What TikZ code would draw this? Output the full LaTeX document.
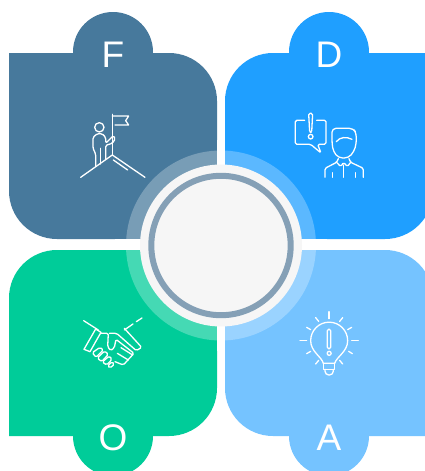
\documentclass[tikz,border=0pt]{standalone}
\usepackage{fontspec}
\setmainfont{Liberation Sans}
\definecolor{cF}{HTML}{47799C}
\definecolor{cD}{HTML}{1F9FFF}
\definecolor{cO}{HTML}{00CC99}
\definecolor{cA}{HTML}{75C3FF}
\definecolor{cHub}{HTML}{F6F6F6}
\definecolor{cRing}{HTML}{85A0B6}
\tikzset{
  letter/.style={text=white,font=\fontsize{37}{37}\selectfont,inner sep=0pt,anchor=base},
  icon/.style={draw=white,line width=1.3pt,line cap=round,line join=round,fill=none,rounded corners=1.5pt},
  zoomed/.style={x=0.3333pt,y=-0.3333pt},
}
\begin{document}
\begin{tikzpicture}[x=1pt,y=-1pt]
\useasboundingbox (0,0) rectangle (425,471);
\clip (0,0) rectangle (425,471);
\fill[white] (0,0) rectangle (425,471);
% quadrants
\fill[cF] (113,52) circle (40);
\fill[cF] (9,53) -- (169,53) arc[start angle=-90,end angle=0,radius=48] -- (217,239) -- (57,239) arc[start angle=90,end angle=180,radius=48] -- cycle;
\fill[cD] (329,52) circle (40);
\fill[cD] (433,53) -- (273,53) arc[start angle=-90,end angle=-180,radius=48] -- (225,239) -- (385,239) arc[start angle=90,end angle=0,radius=48] -- cycle;
\fill[cO] (113,436) circle (40);
\fill[cO] (217,250) -- (57,250) arc[start angle=-90,end angle=-180,radius=48] -- (9,436) -- (169,436) arc[start angle=90,end angle=0,radius=48] -- cycle;
\fill[cA] (329,436) circle (40);
\fill[cA] (225,250) -- (385,250) arc[start angle=-90,end angle=0,radius=48] -- (433,436) -- (273,436) arc[start angle=90,end angle=180,radius=48] -- cycle;
% hub
\fill[white,fill opacity=0.27] (221,245.5) circle (95);
\fill[white] (217,140) rectangle (225,351);
\fill[white] (115,239) rectangle (327,250);
\fill[cHub] (221,245.5) circle (81);
\draw[cRing,line width=6pt] (221,245.5) circle (69.7);
% letters
\node[letter] (lF) at (113,67) {F};
\node[letter] (lD) at (329,67) {D};
\node[letter] (lO) at (113,450) {O};
\node[letter] (lA) at (329,450) {A};
% flag icon
\begin{scope}[shift={(60,0)},zoomed]
\draw[icon,sharp corners] (62,532) -- (157,465) -- (255,532);
\draw[icon] (160,480) -- (203,510);
\draw[icon] (157,465) -- (157,343);
\draw[icon,sharp corners] (157,348) -- (206,348) -- (197,362) -- (206,375) -- (165,375);
\draw[icon] (118,382) circle (14);
\draw[icon] (107,497) -- (107,462) -- (99,445) -- (99,412) -- (112,401) -- (126,401) -- (137,412) -- (137,430) -- (160,407) -- (166,416) -- (157,430) -- (137,436) -- (137,478);
\draw[icon] (122,492) -- (122,445);
\end{scope}
% speech and person icon
\begin{scope}[shift={(270,0)},zoomed]
\draw[icon] (104,361) -- (76,361) -- (76,433) -- (122,433) -- (153,459) -- (143,433) -- (168,433) -- (168,361) -- (140,361);
\draw[icon] (116,340) -- (128,340) -- (125,397) -- (119,397) -- cycle;
\draw[icon] (122,410) circle (7);
\draw[icon,rounded corners=4pt] (190,455) -- (186,430) -- (186,385) -- (250,385) -- (259,400) -- (259,430) -- (252,455) -- (235,474) -- (206,474) -- cycle;
\draw[icon] (199,425) .. controls (210,410) and (230,410) .. (246,418);
\draw[icon] (205,476) -- (200,487) -- (165,505) -- (165,532);
\draw[icon] (237,476) -- (242,487) -- (280,505) -- (280,532);
\draw[icon] (200,487) -- (212,500) -- (221,487) -- (232,500) -- (242,487);
\draw[icon] (221,495) -- (221,532);
\draw[icon] (187,518) -- (187,532);
\draw[icon] (257,518) -- (257,532);
\end{scope}
% handshake icon
\begin{scope}[shift={(60,300)},zoomed]
\draw[icon] (71,62) -- (115,90);
\draw[icon] (246,54) -- (229,65);
\draw[icon] (219,72) -- (193,90);
\draw[icon,sharp corners] (107,87) -- (123,97) -- (90,155) -- (72,148) -- cycle;
\draw[icon] (193,85) -- (245,142) -- (229,152) -- (170,100) -- (148,100);
\draw[icon] (123,100) -- (145,100) -- (143,140) -- (152,152) -- (163,143) -- (168,118) -- (222,160) -- (190,195) -- (165,185);
\draw[icon] (97,158) -- (120,142) -- (130,150) -- (108,172) -- cycle;
\draw[icon] (112,174) -- (134,153) -- (145,163) -- (125,185) -- cycle;
\draw[icon] (127,186) -- (148,168) -- (156,178) -- (140,195) -- cycle;
\draw[icon] (143,198) -- (156,185) -- (163,193) -- (150,204) -- cycle;
\draw[icon] (183,143) -- (218,165);
\draw[icon] (172,160) -- (205,180);
\end{scope}
% bulb icon
\begin{scope}[shift={(270,300)},zoomed]
\draw[icon,sharp corners] (160,190) .. controls (155,170) and (122,155) .. (122,122) arc[start angle=180,end angle=360,radius=55.5] .. controls (233,155) and (200,170) .. (194,190) -- cycle;
\draw[icon,sharp corners] (160,190) -- (160,208) -- (194,208) -- (194,190);
\draw[icon] (165,208) -- (165,218) -- (172,225) -- (183,225) -- (190,218) -- (190,208);
\draw[icon,sharp corners] (172,92) arc[start angle=180,end angle=360,radius=5] -- (182,142) arc[start angle=0,end angle=180,radius=5] -- cycle;
\draw[icon] (177.5,160) circle (6);
\draw[icon] (177,35) -- (177,56);
\draw[icon] (137,53) -- (146,64);
\draw[icon] (218,53) -- (209,64);
\draw[icon] (110,82) -- (122,89);
\draw[icon] (245,82) -- (233,89);
\draw[icon] (90,122) -- (110,122);
\draw[icon] (245,122) -- (265,122);
\draw[icon] (110,161) -- (122,154);
\draw[icon] (247,161) -- (236,154);
\draw[icon] (137,192) -- (146,181);
\draw[icon] (218,192) -- (209,181);
\end{scope}
\end{tikzpicture}
\end{document}
